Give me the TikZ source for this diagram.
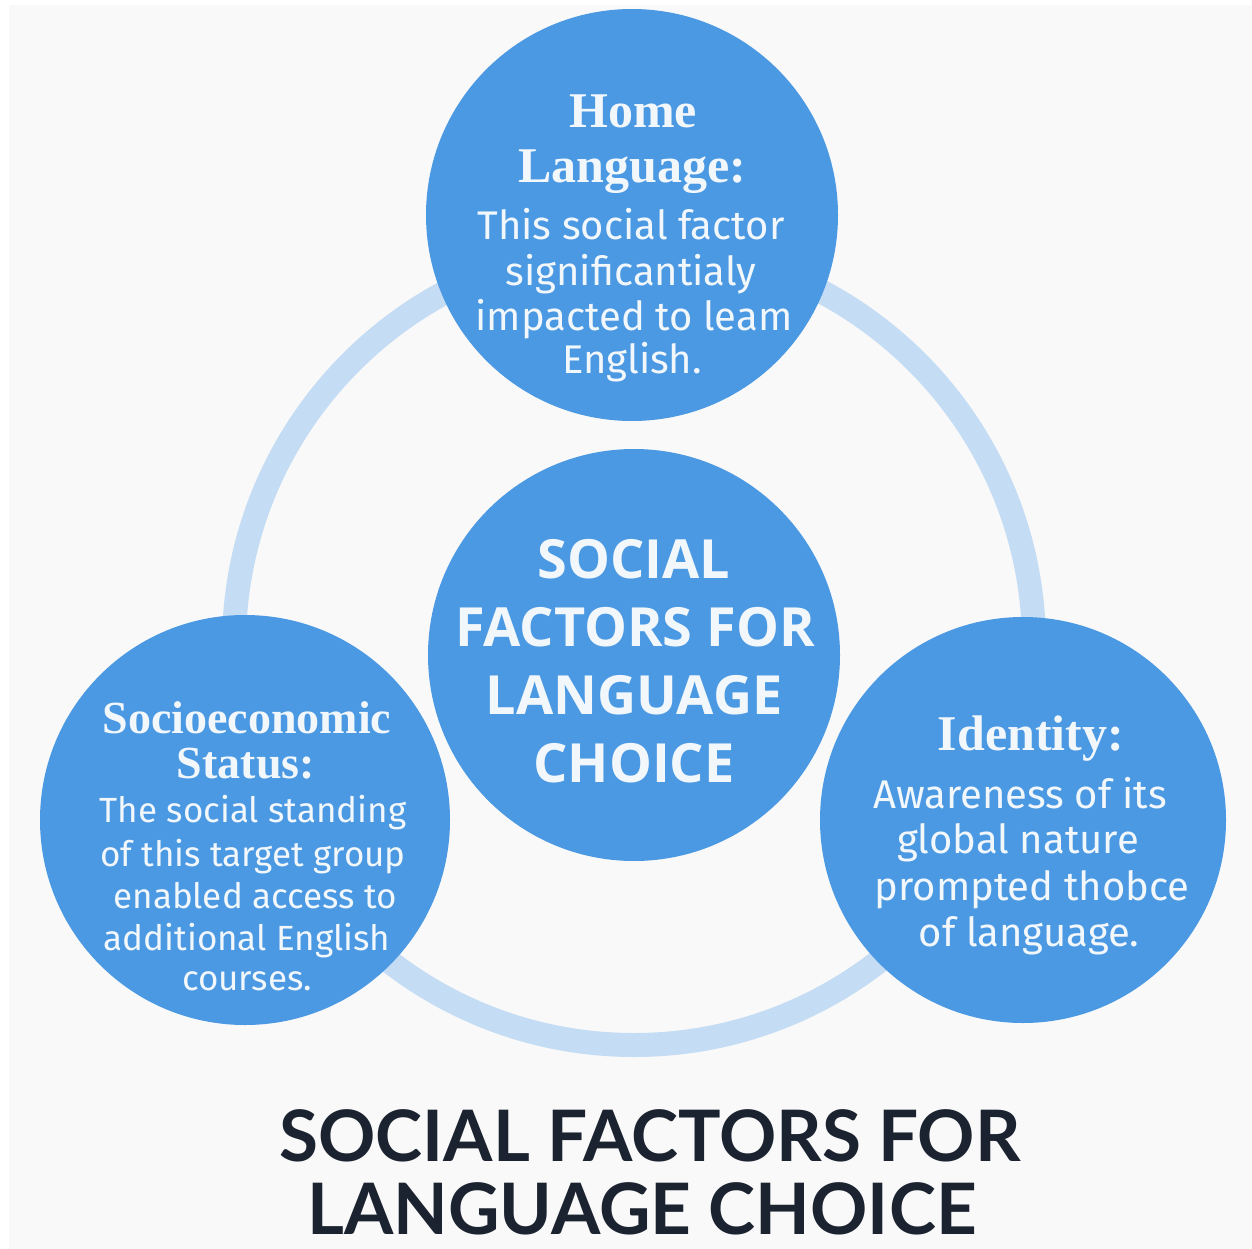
\documentclass[tikz,border=0pt]{standalone}
\usepackage{fontspec}
\setmainfont{Liberation Serif}
\newfontfamily\bodyf{Fira Sans}
\newfontfamily\headf{Liberation Serif}
\newfontfamily\centf{Open Sans}
\newfontfamily\titlef{Lato}
\definecolor{bg}{HTML}{F9F9F9}
\definecolor{circ}{HTML}{4A99E2}
\definecolor{ring}{HTML}{C4DCF4}
\definecolor{ctext}{HTML}{F2F7FC}
\definecolor{ttext}{HTML}{1C2330}
\begin{document}
\begin{tikzpicture}[x=1pt,y=-1pt,
  bubble/.style={circle,fill=circ,inner sep=0pt,minimum size=#1},
  head/.style={anchor=base,text=ctext,font=\headf\bfseries\fontsize{50}{54}\selectfont},
  shead/.style={anchor=base,text=ctext,font=\headf\bfseries\fontsize{46}{50}\selectfont},
  body/.style={anchor=base,text=ctext,font=\bodyf\fontsize{40}{44}\selectfont},
  sbody/.style={anchor=base,text=ctext,font=\bodyf\fontsize{35}{40}\selectfont},
  cent/.style={anchor=base,text=ctext,font=\centf\bfseries\fontsize{54}{60}\selectfont},
  ttl/.style={anchor=base,inner sep=0pt,text=ttext,font=\titlef\bfseries\fontsize{71}{76}\selectfont}]
\useasboundingbox (0,0) rectangle (1252,1249);
\clip (0,0) rectangle (1252,1249);
\fill[white] (0,0) rectangle (1252,1249);
\fill[bg] (9,5) rectangle (1252,1249);
% ring
\node[circle,draw=ring,line width=24pt,minimum size=800pt,inner sep=0pt] (ringc) at (634,645) {};
% bubbles
\node[bubble=412pt] (home) at (632,215) {};
\node[bubble=412pt] (center) at (634,655) {};
\node[bubble=410pt] (socio) at (245,820) {};
\node[bubble=406pt] (ident) at (1023,820) {};
% home text
\node[head] (h1) at (633,128) {Home};
\node[head] (h2) at (632,183) {Language:};
\node[body] (h3) at (631,240) {This social factor};
\node[body] (h4) at (631,285) {significantialy};
\node[body] (h5) at (634,330) {impacted to leam};
\node[body] (h6) at (632,373) {English.};
% center text
\node[cent] (c1) at (634,578) {SOCIAL};
\node[cent] (c2) at (635,646) {FACTORS FOR};
\node[cent] (c3) at (634,714) {LANGUAGE};
\node[cent] (c4) at (634,782) {CHOICE};
% socio text
\node[shead] (s1) at (247,733) {Socioeconomic};
\node[shead] (s2) at (246,778) {Status:};
\node[sbody] (s3) at (253,822) {The social standing};
\node[sbody] (s4) at (253,866) {of this target group};
\node[sbody] (s5) at (255,908) {enabled access to};
\node[sbody] (s6) at (247,950) {additional English};
\node[sbody] (s7) at (247,990) {courses.};
% identity text
\node[head] (i1) at (1031,750) {Identity:};
\node[body] (i2) at (1020,808) {Awareness of its};
\node[body] (i3) at (1018,853) {global nature};
\node[body] (i4) at (1032,900) {prompted thobce};
\node[body] (i5) at (1029,946) {of language.};
% title
\node[ttl] (t1) at (650,1161) {SOCIAL FACTORS FOR};
\node[ttl] (t2) at (642,1234) {LANGUAGE CHOICE};
\end{tikzpicture}
\end{document}
